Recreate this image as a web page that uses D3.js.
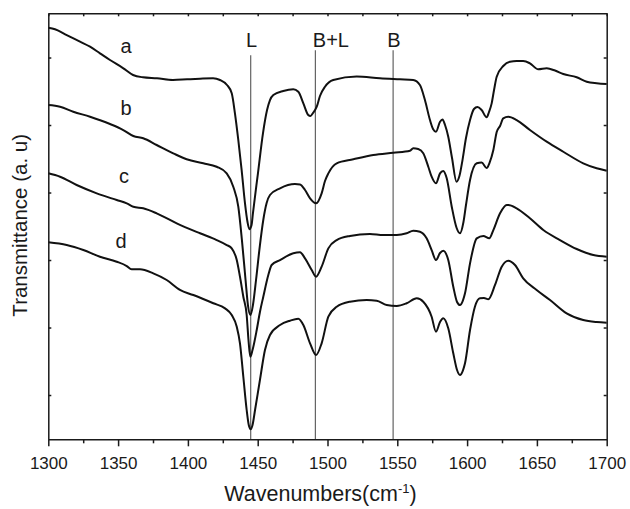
<!DOCTYPE html>
<html>
<head>
<meta charset="utf-8">
<script src="https://cdn.jsdelivr.net/npm/d3@7"></script>
<style>
  body { margin: 0; background: #fff; }
  text { font-family: "Liberation Sans", Arial, sans-serif; fill: #1a1a1a; }
  .axis path, .axis line { stroke: #1a1a1a; stroke-width: 1.5; }
</style>
</head>
<body>
<div class="ir-chart"></div>
<script>
// FTIR spectra (transmittance in arbitrary units)
const waveA = [1300.0, 1304.8, 1313.2, 1322.7, 1329.9, 1337.0, 1344.2, 1353.5, 1360.7, 1367.8, 1377.9, 1389.3, 1399.4, 1408.7, 1418.0, 1423.0, 1428.0, 1431.4, 1433.7, 1436.1, 1438.5, 1440.9, 1442.7, 1444.1, 1445.6, 1446.6, 1450.2, 1453.8, 1456.7, 1458.8, 1461.2, 1468.3, 1475.5, 1479.1, 1482.7, 1486.2, 1487.8, 1489.6, 1492.3, 1494.6, 1498.2, 1504.1, 1520.9, 1537.6, 1551.9, 1561.4, 1566.2, 1569.8, 1573.4, 1575.6, 1577.7, 1580.6, 1582.4, 1584.2, 1586.5, 1589.2, 1592.4, 1594.5, 1596.7, 1599.2, 1602.1, 1604.9, 1607.4, 1610.4, 1614.0, 1615.7, 1617.6, 1619.3, 1621.2, 1625.9, 1630.7, 1635.5, 1640.2, 1645.0, 1651.0, 1657.0, 1663.0, 1668.9, 1678.5, 1685.7, 1692.8, 1700.0];
const transA = [6.441, 6.418, 6.333, 6.234, 6.160, 6.062, 5.963, 5.844, 5.741, 5.707, 5.692, 5.667, 5.677, 5.686, 5.692, 5.667, 5.593, 5.470, 5.173, 4.778, 4.333, 3.840, 3.563, 3.455, 3.519, 3.696, 4.289, 4.881, 5.222, 5.370, 5.444, 5.504, 5.529, 5.493, 5.321, 5.148, 5.133, 5.178, 5.271, 5.430, 5.567, 5.667, 5.719, 5.692, 5.677, 5.667, 5.593, 5.370, 5.074, 4.941, 4.901, 5.049, 5.081, 5.000, 4.827, 4.511, 4.160, 4.244, 4.481, 4.807, 5.074, 5.237, 5.267, 5.222, 5.114, 5.193, 5.321, 5.519, 5.716, 5.874, 5.938, 5.948, 5.948, 5.914, 5.825, 5.840, 5.807, 5.756, 5.707, 5.641, 5.618, 5.607];

const waveB = [1300.0, 1308.4, 1317.9, 1329.9, 1344.2, 1353.7, 1360.9, 1368.0, 1377.6, 1389.5, 1399.1, 1411.0, 1420.6, 1427.8, 1432.5, 1436.1, 1438.7, 1441.3, 1443.0, 1444.8, 1446.6, 1448.8, 1451.6, 1454.0, 1456.4, 1458.8, 1466.0, 1476.7, 1480.3, 1483.9, 1487.5, 1491.8, 1495.8, 1498.2, 1500.6, 1506.6, 1518.5, 1532.8, 1547.1, 1559.1, 1561.4, 1565.0, 1568.6, 1572.2, 1574.6, 1577.7, 1580.6, 1582.9, 1585.4, 1589.0, 1592.5, 1594.9, 1597.4, 1599.2, 1602.1, 1606.9, 1610.4, 1614.0, 1616.0, 1618.8, 1621.2, 1623.6, 1625.9, 1629.5, 1635.5, 1645.0, 1657.0, 1668.9, 1683.2, 1692.8, 1700.0];
const transB = [5.296, 5.271, 5.197, 5.123, 5.015, 4.926, 4.837, 4.803, 4.704, 4.581, 4.492, 4.433, 4.382, 4.284, 4.086, 3.790, 3.296, 2.704, 2.333, 2.185, 2.333, 2.704, 3.222, 3.593, 3.844, 3.963, 4.062, 4.126, 4.119, 4.037, 3.914, 3.840, 3.988, 4.170, 4.284, 4.433, 4.492, 4.556, 4.590, 4.619, 4.655, 4.644, 4.581, 4.382, 4.234, 4.136, 4.284, 4.319, 4.210, 3.790, 3.474, 3.396, 3.563, 3.815, 4.185, 4.433, 4.444, 4.363, 4.437, 4.630, 4.896, 4.985, 5.099, 5.123, 5.074, 4.926, 4.753, 4.604, 4.433, 4.359, 4.323];

const waveC = [1300.0, 1308.4, 1320.3, 1334.7, 1349.0, 1356.2, 1360.9, 1368.0, 1377.6, 1392.0, 1408.7, 1420.6, 1427.8, 1431.4, 1435.0, 1437.3, 1439.7, 1442.1, 1443.4, 1444.7, 1446.3, 1449.3, 1451.6, 1454.0, 1457.6, 1460.0, 1466.0, 1475.5, 1480.3, 1483.9, 1488.7, 1491.8, 1495.8, 1500.6, 1506.6, 1516.1, 1530.4, 1540.0, 1549.6, 1556.7, 1561.4, 1566.2, 1571.0, 1574.6, 1577.7, 1580.6, 1582.9, 1586.5, 1590.1, 1592.8, 1594.9, 1597.1, 1598.5, 1602.1, 1606.9, 1611.6, 1615.9, 1618.8, 1623.6, 1628.4, 1629.5, 1635.5, 1645.0, 1654.6, 1666.5, 1678.5, 1690.4, 1700.0];
const transC = [4.284, 4.234, 4.111, 3.988, 3.889, 3.840, 3.790, 3.766, 3.692, 3.544, 3.396, 3.296, 3.222, 3.173, 3.000, 2.753, 2.456, 2.185, 1.815, 1.567, 1.667, 1.963, 2.230, 2.456, 2.778, 2.926, 3.000, 3.099, 3.114, 3.025, 2.852, 2.753, 2.901, 3.173, 3.296, 3.356, 3.385, 3.370, 3.370, 3.396, 3.434, 3.419, 3.321, 3.148, 3.000, 3.104, 3.138, 3.000, 2.604, 2.378, 2.333, 2.407, 2.507, 2.951, 3.321, 3.356, 3.321, 3.444, 3.692, 3.815, 3.815, 3.766, 3.618, 3.444, 3.296, 3.163, 3.074, 3.049];

const waveD = [1300.0, 1313.2, 1325.1, 1337.0, 1349.0, 1356.2, 1359.7, 1365.7, 1375.2, 1384.8, 1394.3, 1403.9, 1418.2, 1426.6, 1431.4, 1435.0, 1437.3, 1439.7, 1442.1, 1443.6, 1445.0, 1446.3, 1448.1, 1451.6, 1455.2, 1458.8, 1466.0, 1473.1, 1479.1, 1482.7, 1487.5, 1491.8, 1495.8, 1500.6, 1506.6, 1516.1, 1528.1, 1535.2, 1542.4, 1549.6, 1556.7, 1563.9, 1568.6, 1574.6, 1577.7, 1580.6, 1582.9, 1586.5, 1590.1, 1592.8, 1594.9, 1597.1, 1598.5, 1602.1, 1605.6, 1609.2, 1612.1, 1615.2, 1620.0, 1624.8, 1629.5, 1634.3, 1640.2, 1649.8, 1659.4, 1671.3, 1683.2, 1692.8, 1700.0];
const transD = [3.262, 3.222, 3.148, 3.049, 2.975, 2.911, 2.862, 2.862, 2.803, 2.704, 2.556, 2.481, 2.359, 2.284, 2.185, 2.012, 1.766, 1.271, 0.778, 0.556, 0.492, 0.556, 0.778, 1.222, 1.667, 1.889, 2.037, 2.101, 2.130, 2.037, 1.766, 1.593, 1.766, 2.160, 2.308, 2.382, 2.407, 2.397, 2.333, 2.319, 2.359, 2.433, 2.382, 2.160, 1.938, 2.081, 2.136, 1.988, 1.618, 1.370, 1.296, 1.370, 1.470, 1.963, 2.308, 2.433, 2.437, 2.418, 2.630, 2.901, 2.990, 2.926, 2.729, 2.556, 2.407, 2.210, 2.111, 2.081, 2.071];

const sampleNames = ["a", "b", "c", "d"];
const labelWn = [1355.7, 1355.7, 1354.2, 1352.1];
const labelT = [6.07, 5.15, 4.14, 3.18];

const peakNames = ["L", "B+L", "B"];
const peakWn = [1445, 1491.3, 1547];

const xTicks = [1300, 1350, 1400, 1450, 1500, 1550, 1600, 1650, 1700];
const xMinor = [1325, 1375, 1425, 1475, 1525, 1575, 1625, 1675];
const yTicks = [1, 2, 3, 4, 5, 6];

const margin = { top: 13.3, right: 23.3, bottom: 69.7, left: 48.3 };
const width = 630 - margin.left - margin.right;
const height = 509 - margin.top - margin.bottom;

const svg = d3.select('.ir-chart')
    .append('svg')
    .attr("width", width + margin.left + margin.right)
    .attr("height", height + margin.top + margin.bottom)
    .append("g")
    .attr("transform", "translate(" + margin.left + "," + margin.top + ")");

const x = d3.scaleLinear().domain([1300, 1700]).range([0, width]);
const y = d3.scaleLinear().domain([0.344, 6.655]).range([height, 0]);

// build series from the arrays
const series = [
    d3.zip(waveA, transA),
    d3.zip(waveB, transB),
    d3.zip(waveC, transC),
    d3.zip(waveD, transD)
];

// reference lines for acid sites
svg.selectAll('.peak-line')
    .data(peakWn)
    .enter()
    .append('line')
    .attr('class', 'peak-line')
    .attr('x1', d => x(d))
    .attr('x2', d => x(d))
    .attr('y1', (d, i) => i === 0 ? 42 : 37)
    .attr('y2', height)
    .style('stroke', '#555')
    .style('stroke-width', 1.1);

svg.selectAll('.peak-label')
    .data(peakNames)
    .enter()
    .append('text')
    .attr('class', 'peak-label')
    .attr('x', (d, i) => i === 1 ? x(peakWn[i]) - 2.5 : x(peakWn[i]) + 0.8)
    .attr('y', 34)
    .attr('text-anchor', (d, i) => i === 1 ? 'start' : 'middle')
    .style('font-size', '20px')
    .text(d => d);

const line = d3.line()
    .x(d => x(d[0]))
    .y(d => y(d[1]))
    .curve(d3.curveMonotoneX);

svg.selectAll('.spectrum')
    .data(series)
    .enter()
    .append('path')
    .attr('class', 'spectrum')
    .attr('d', line)
    .style('fill', 'none')
    .style('stroke', '#111')
    .style('stroke-width', 2)
    .style('stroke-linejoin', 'round');

svg.selectAll('.sample-label')
    .data(sampleNames)
    .enter()
    .append('text')
    .attr('class', 'sample-label')
    .attr('x', (d, i) => x(labelWn[i]))
    .attr('y', (d, i) => y(labelT[i]))
    .attr('text-anchor', 'middle')
    .style('font-size', '20px')
    .text(d => d);

// axes
const xaxis = d3.axisBottom(x).tickValues(xTicks).tickFormat(d3.format('d'))
    .tickSizeInner(7).tickSizeOuter(0).tickPadding(11);
const xminor = d3.axisBottom(x).tickValues(xMinor).tickSize(4).tickFormat('');

const gx = svg.append('g')
    .attr('class', 'x axis')
    .attr('transform', 'translate(0,' + height + ')')
    .call(xaxis);
gx.selectAll('text').style('font-size', '17px');

svg.append('g')
    .attr('class', 'x axis')
    .attr('transform', 'translate(0,' + height + ')')
    .call(xminor)
    .select('.domain').remove();

svg.append('g')
    .attr('class', 'axis')
    .call(d3.axisTop(x).tickValues(xTicks.concat(xMinor)).tickSizeInner(-3).tickSizeOuter(0).tickFormat(''));

svg.append('g')
    .attr('class', 'axis')
    .call(d3.axisLeft(y).tickValues(yTicks).tickSizeInner(-3).tickSizeOuter(0).tickFormat(''));

svg.append('g')
    .attr('class', 'axis')
    .attr('transform', 'translate(' + width + ',0)')
    .call(d3.axisRight(y).tickValues(yTicks).tickSizeInner(-3).tickSizeOuter(0).tickFormat(''));

// titles
const xt = svg.append('text')
    .attr('x', width / 2 - 7)
    .attr('y', height + 62)
    .attr('text-anchor', 'middle')
    .style('font-size', '21.5px');
xt.append('tspan').text('Wavenumbers(cm');
xt.append('tspan').attr('dy', -8).style('font-size', '13px').text('-1');
xt.append('tspan').attr('dy', 8).text(')');

svg.append('text')
    .attr('transform', 'translate(' + (27 - margin.left) + ',' + (height / 2 - 1) + ') rotate(-90)')
    .attr('text-anchor', 'middle')
    .style('font-size', '20.5px')
    .text('Transmittance (a. u)');
</script>
</body>
</html>
